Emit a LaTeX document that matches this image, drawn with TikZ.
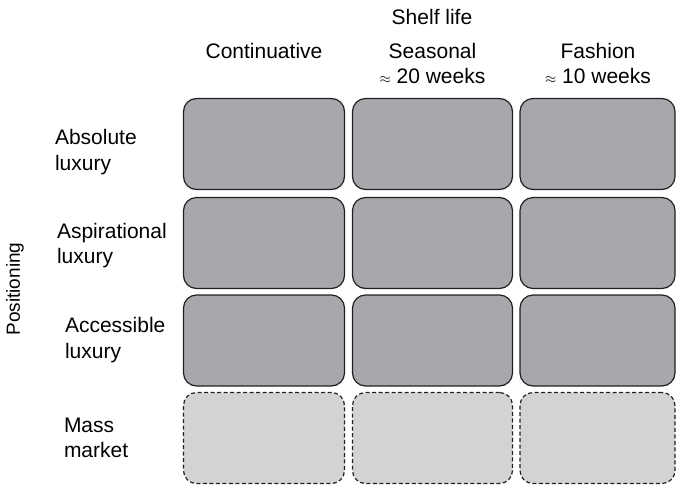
\documentclass[tikz,border=0pt]{standalone}
\usepackage{fontspec}
\setmainfont{Liberation Sans}
\definecolor{boxdark}{HTML}{A7A8AB}
\definecolor{boxlight}{HTML}{D2D3D5}
\definecolor{edge}{HTML}{231F20}
\newcommand{\apx}{{\fontsize{15}{15}\selectfont$\approx$}}
\begin{document}
\begin{tikzpicture}[x=1pt,y=-1pt,
  lbl/.style={font=\fontsize{21}{25.5}\selectfont, inner sep=0pt, outer sep=0pt},
  rowlbl/.style={lbl, align=left, anchor=base west},
  collbl/.style={lbl, align=center, anchor=base},
  cellbase/.style={rectangle, rounded corners=13pt, draw=edge, line width=1.2pt, inner sep=0pt, outer sep=0pt, minimum height=91pt},
  cell/.style={cellbase, fill=boxdark},
  masscell/.style={cellbase, fill=boxlight, dashed, dash pattern=on 4pt off 2.5pt}
]
\useasboundingbox (0,0) rectangle (676,485);

% headers
\node[collbl] (shelf) at (432,24) {Shelf life};
\node[collbl] (cont) at (264,58) {Continuative};
\node[collbl] (seas) at (432.5,83.5) {Seasonal\\\apx\ 20 weeks};
\node[collbl] (fash) at (598,83.5) {Fashion\\\apx\ 10 weeks};

% row labels (base = last line)
\node[rowlbl] (abs) at (55,170) {Absolute\\luxury};
\node[rowlbl] (asp) at (57,263.5) {Aspirational\\luxury};
\node[rowlbl] (acc) at (65,358) {Accessible\\luxury};
\node[rowlbl] (mass) at (64,457.5) {Mass\\market};

\node[lbl, rotate=90, font=\fontsize{19}{22}\selectfont] (pos) at (15,289) {Positioning};

% cells
\foreach \r/\y in {1/144,2/243,3/340.5}{
  \node[cell, minimum width=161pt] (c\r a) at (264,\y) {};
  \node[cell, minimum width=160pt] (c\r b) at (432.5,\y) {};
  \node[cell, minimum width=155pt] (c\r c) at (597.5,\y) {};
}
\node[masscell, minimum width=161pt] (c4a) at (264,438) {};
\node[masscell, minimum width=160pt] (c4b) at (432.5,438) {};
\node[masscell, minimum width=155pt] (c4c) at (597.5,438) {};
\end{tikzpicture}
\end{document}
